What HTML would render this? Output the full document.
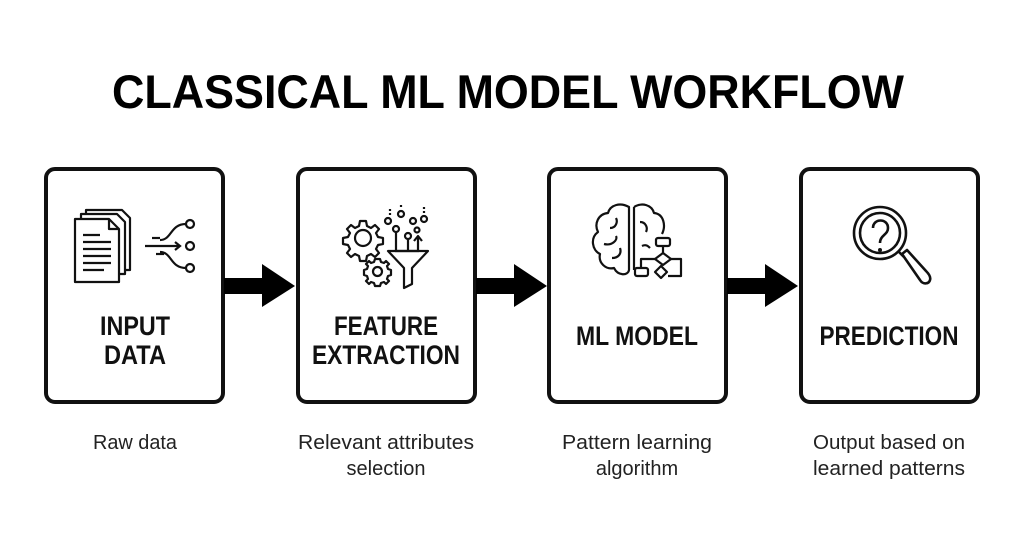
<!DOCTYPE html>
<html><head><meta charset="utf-8"><style>
html,body{margin:0;padding:0;background:#fff;width:1024px;height:559px;overflow:hidden}
</style></head><body>
<svg width="1024" height="559" viewBox="0 0 1024 559" xmlns="http://www.w3.org/2000/svg" font-family="Liberation Sans, sans-serif">
<rect width="1024" height="559" fill="#fff"/>
<text x="508" y="108" text-anchor="middle" font-size="47" font-weight="bold" textLength="792" lengthAdjust="spacingAndGlyphs">CLASSICAL ML MODEL WORKFLOW</text>
<g fill="none" stroke="#111" stroke-width="4">
<rect x="46" y="169" width="177" height="233" rx="9"/>
<rect x="298" y="169" width="177" height="233" rx="9"/>
<rect x="549" y="169" width="177" height="233" rx="9"/>
<rect x="801" y="169" width="177" height="233" rx="9"/>
</g>
<g fill="#000">
<rect x="224" y="278" width="40" height="16"/><polygon points="262,264 295,286 262,307"/>
<rect x="476" y="278" width="40" height="16"/><polygon points="514,264 547,286 514,307"/>
<rect x="727" y="278" width="40" height="16"/><polygon points="765,264 798,286 765,307"/>
</g>
<g font-weight="bold" font-size="27" text-anchor="middle" fill="#111">
<text x="135" y="335" textLength="70" lengthAdjust="spacingAndGlyphs">INPUT</text>
<text x="135" y="364" textLength="62" lengthAdjust="spacingAndGlyphs">DATA</text>
<text x="386" y="335" textLength="104" lengthAdjust="spacingAndGlyphs">FEATURE</text>
<text x="386" y="364" textLength="148" lengthAdjust="spacingAndGlyphs">EXTRACTION</text>
<text x="637" y="345" textLength="122" lengthAdjust="spacingAndGlyphs">ML MODEL</text>
<text x="889" y="345" textLength="139" lengthAdjust="spacingAndGlyphs">PREDICTION</text>
</g>
<g font-size="20" text-anchor="middle" fill="#222">
<text x="135" y="449" textLength="84" lengthAdjust="spacingAndGlyphs">Raw data</text>
<text x="386" y="449" textLength="176" lengthAdjust="spacingAndGlyphs">Relevant attributes</text>
<text x="386" y="475">selection</text>
<text x="637" y="449" textLength="150" lengthAdjust="spacingAndGlyphs">Pattern learning</text>
<text x="637" y="475">algorithm</text>
<text x="889" y="449" textLength="152" lengthAdjust="spacingAndGlyphs">Output based on</text>
<text x="889" y="475" textLength="152" lengthAdjust="spacingAndGlyphs">learned patterns</text>
</g>
<!-- icon 1 -->
<g fill="#fff" stroke="#111" stroke-width="2.2" stroke-linejoin="round">
<path d="M86 210 H122 L130 218 V270 H86 Z"/>
<path d="M81 214 H117 L125 222 V274 H81 Z"/>
<path d="M75 219 H109 L119 229 V282 H75 Z"/>
<path d="M109 219 V229 H119" fill="none"/>
</g>
<g stroke="#111" stroke-width="2.2" fill="none">
<line x1="83" y1="235" x2="100" y2="235"/><line x1="83" y1="242" x2="111" y2="242"/>
<line x1="83" y1="249" x2="111" y2="249"/><line x1="83" y1="256" x2="111" y2="256"/>
<line x1="83" y1="263" x2="111" y2="263"/><line x1="83" y1="270" x2="104" y2="270"/>
<line x1="145" y1="246" x2="180" y2="246"/><polyline points="175,242 180,246 175,250"/>
<line x1="152" y1="238" x2="160" y2="238"/><line x1="156" y1="254" x2="164" y2="254"/>
<path d="M160 240 C172 240 170 224 186 224"/><path d="M160 252 C172 252 170 268 186 268"/>
<circle cx="190" cy="224" r="4"/><circle cx="190" cy="246" r="4"/><circle cx="190" cy="268" r="4"/>
</g>
<!-- icon 2 -->
<g stroke="#111" stroke-width="2.2" fill="none" stroke-linejoin="round">
<path d="M360 221 h6 l1 5 l4 2 l4 -3 l4 4 l-3 4 l2 4 l5 1 v6 l-5 1 l-2 4 l3 4 l-4 4 l-4 -3 l-4 2 l-1 5 h-6 l-1 -5 l-4 -2 l-4 3 l-4 -4 l3 -4 l-2 -4 l-5 -1 v-6 l5 -1 l2 -4 l-3 -4 l4 -4 l4 3 l4 -2 z"/>
<circle cx="363" cy="238" r="8"/>
<path d="M375 259 h5 l1 3 l3 1 l2 -2 l3 3 l-2 2 l1 3 l3 1 v5 l-3 1 l-1 3 l2 2 l-3 3 l-2 -2 l-3 1 l-1 3 h-5 l-1 -3 l-3 -1 l-2 2 l-3 -3 l2 -2 l-1 -3 l-3 -1 v-5 l3 -1 l1 -3 l-2 -2 l3 -3 l2 2 l3 -1 z"/>
<circle cx="377.5" cy="271.5" r="4.5"/>
<path d="M388 251 H428 L412 268 V284 L404 288 V268 Z"/>
<line x1="395" y1="251" x2="419" y2="251"/>
<circle cx="396" cy="229" r="3"/><line x1="396" y1="232" x2="396" y2="251"/>
<circle cx="408" cy="236" r="3"/><line x1="408" y1="239" x2="408" y2="251"/>
<line x1="418" y1="251" x2="418" y2="237"/><polyline points="414,241 418,236 422,241"/>
<circle cx="388" cy="221" r="3"/><circle cx="401" cy="214" r="3"/><circle cx="413" cy="221" r="3"/><circle cx="424" cy="219" r="3"/><circle cx="417" cy="230" r="2.5"/>
<line x1="401" y1="205" x2="401" y2="209" stroke-dasharray="2 2"/><line x1="424" y1="207" x2="424" y2="214" stroke-dasharray="2 2"/><line x1="390" y1="209" x2="390" y2="216" stroke-dasharray="2 2"/>
</g>
<!-- icon 3 -->
<g stroke="#111" stroke-width="2.2" fill="none" stroke-linejoin="round">
<path d="M629 207 C620 202 610 205 608 213 C598 214 594 224 598 232 C590 238 592 250 600 254 C598 263 606 270 614 268 C618 276 628 276 629 270 Z"/>
<path d="M634 207 C642 202 652 205 654 213 C664 214 666 226 662 234"/>
<line x1="634" y1="207" x2="634" y2="270"/>
<path d="M610 228 C616 228 618 222 616 218 M604 244 C612 246 618 240 616 236 M612 258 C618 258 622 254 620 248"/>
<path d="M640 222 C646 222 648 228 646 232 M642 246 C646 244 648 246 650 248"/>
<rect x="656" y="238" width="14" height="8" rx="2"/>
<line x1="663" y1="246" x2="663" y2="253"/>
<path d="M663 253 L671 259 L663 265 L655 259 Z"/>
<polyline points="655,259 641,259 641,268"/><rect x="635" y="268" width="13" height="8" rx="2"/>
<path d="M661 266 L667 272 L661 278 L655 272 Z"/>
<polyline points="671,259 681,259 681,276 668,276"/>
</g>
<!-- icon 4 -->
<g stroke="#111" stroke-width="2.6" fill="none" stroke-linejoin="round">
<circle cx="880" cy="233" r="26"/><circle cx="880" cy="233" r="20"/>
<path d="M873 228 C873 218 888 218 888 228 C888 235 880 235 880 243"/>
<line x1="898" y1="251" x2="904" y2="257"/>
<path d="M902 254 L920 280 C923 285 929 284 930 280 C931 277 929 274 926 271 L907 250 Z"/>
</g>
<circle cx="880" cy="250" r="2" fill="#111"/>
</svg>
</body></html>
